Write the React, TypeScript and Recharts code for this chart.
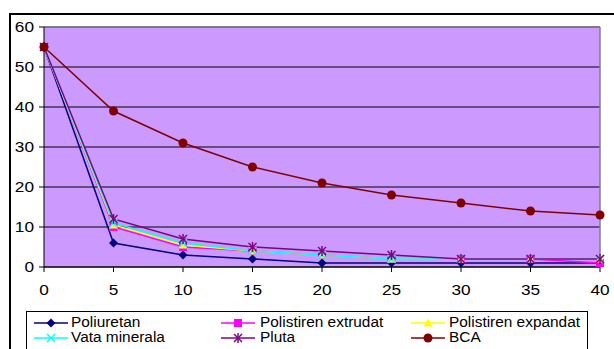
import React from "react";
import { CartesianGrid, Line, LineChart, ReferenceLine, XAxis, YAxis } from "recharts";

// thickness in cm
const grosimi = [0, 5, 10, 15, 20, 25, 30, 35, 40];

const poliuretan = [55, 6, 3, 2, 1, 1, 1, 1, 1];
const polistirenExtrudat = [55, 10, 5, 4, 3, 2, 2, 2, 1];
const polistirenExpandat = [55, 10.5, 5.5, 4, 3, 2, 2, 2, 2];
const vataMinerala = [55, 11, 6, 4, 3, 2, 2, 2, 2];
const pluta = [55, 12, 7, 5, 4, 3, 2, 2, 2];
const bca = [55, 39, 31, 25, 21, 18, 16, 14, 13];

const xTicks = [0, 5, 10, 15, 20, 25, 30, 35, 40];
const yTicks = [0, 10, 20, 30, 40, 50, 60];

type Marker = "diamond" | "square" | "triangle" | "cross" | "star" | "circle";

const series: { key: string; name: string; color: string; marker: Marker; values: number[] }[] = [
  { key: "poliuretan", name: "Poliuretan", color: "#000080", marker: "diamond", values: poliuretan },
  { key: "extrudat", name: "Polistiren extrudat", color: "#FF00FF", marker: "square", values: polistirenExtrudat },
  { key: "expandat", name: "Polistiren expandat", color: "#FFFF00", marker: "triangle", values: polistirenExpandat },
  { key: "vata", name: "Vata minerala", color: "#00FFFF", marker: "cross", values: vataMinerala },
  { key: "pluta", name: "Pluta", color: "#800080", marker: "star", values: pluta },
  { key: "bca", name: "BCA", color: "#800000", marker: "circle", values: bca },
];

const data = grosimi.map((g, i) => {
  const row: Record<string, number> = { g };
  series.forEach((s) => (row[s.key] = s.values[i]));
  return row;
});

// the text in this chart is slightly wide, as in a stretched spreadsheet chart
const STRETCH = 1.15;

function MarkerShape({ type, cx, cy, color }: { type: Marker; cx: number; cy: number; color: string }) {
  switch (type) {
    case "diamond":
      return <polygon points={`${cx},${cy - 4.5} ${cx + 4.5},${cy} ${cx},${cy + 4.5} ${cx - 4.5},${cy}`} fill={color} />;
    case "square":
      return <rect x={cx - 4} y={cy - 4} width={8} height={8} fill={color} />;
    case "triangle":
      return <polygon points={`${cx},${cy - 4.5} ${cx + 4.5},${cy + 3.5} ${cx - 4.5},${cy + 3.5}`} fill={color} />;
    case "cross":
      return (
        <g stroke={color} strokeWidth={1.5}>
          <line x1={cx - 4} y1={cy - 4} x2={cx + 4} y2={cy + 4} />
          <line x1={cx - 4} y1={cy + 4} x2={cx + 4} y2={cy - 4} />
        </g>
      );
    case "star":
      return (
        <g stroke={color} strokeWidth={1.5}>
          <line x1={cx - 4} y1={cy - 4} x2={cx + 4} y2={cy + 4} />
          <line x1={cx - 4} y1={cy + 4} x2={cx + 4} y2={cy - 4} />
          <line x1={cx} y1={cy - 5} x2={cx} y2={cy + 5} />
        </g>
      );
    default:
      return <circle cx={cx} cy={cy} r={4.5} fill={color} />;
  }
}

function XTick(props: any) {
  const { x, y, payload } = props;
  return (
    <text transform={`translate(${x},${y}) scale(${STRETCH},1)`} textAnchor="middle" dy="0.71em" fontSize={15} fill="#000">
      {payload.value}
    </text>
  );
}

function YTick(props: any) {
  const { x, y, payload } = props;
  return (
    <text transform={`translate(${x},${y}) scale(${STRETCH},1)`} textAnchor="end" dy="0.355em" fontSize={15} fill="#000">
      {payload.value}
    </text>
  );
}

const legendCols = [
  { line: 34, text: 71 },
  { line: 221, text: 260 },
  { line: 411, text: 449 },
];
const legendRows = [323, 338];

function ChartLegend() {
  return (
    <div
      style={{
        position: "absolute",
        left: 26,
        top: 311,
        width: 562,
        height: 60,
        border: "1px solid #000",
        boxSizing: "border-box",
      }}
    >
      {series.map((s, i) => {
        const col = legendCols[i % 3];
        const row = legendRows[Math.floor(i / 3)];
        return (
          <React.Fragment key={s.key}>
            <svg
              width={36}
              height={14}
              style={{ position: "absolute", left: col.line - 27, top: row - 311 - 7 - 1 }}
            >
              <line x1={0} y1={7} x2={34} y2={7} stroke={s.color} strokeWidth={1.5} />
              <MarkerShape type={s.marker} cx={17} cy={7} color={s.color} />
            </svg>
            <span
              style={{
                position: "absolute",
                left: col.text - 27,
                top: row - 311 - 9,
                fontSize: 14,
                lineHeight: "15px",
                whiteSpace: "nowrap",
                transform: "scaleX(1.1)",
                transformOrigin: "left center",
              }}
            >
              {s.name}
            </span>
          </React.Fragment>
        );
      })}
    </div>
  );
}

export default function App() {
  return (
    <div
      style={{
        position: "absolute",
        left: 0,
        top: 0,
        width: 614,
        height: 349,
        overflow: "hidden",
        background: "#fff",
        fontFamily: "'Liberation Sans', Arial, sans-serif",
      }}
    >
      <div
        style={{
          position: "absolute",
          left: 9,
          top: 13,
          width: 700,
          height: 400,
          borderLeft: "2px solid #000",
          borderTop: "2px solid #000",
        }}
      />
      <LineChart
        width={614}
        height={349}
        data={data}
        margin={{ top: 27, right: 14, bottom: 0, left: 0 }}
        style={{ position: "absolute", left: 0, top: 0 }}
      >
        <CartesianGrid vertical={false} stroke="#000" fill="#CC99FF" fillOpacity={1} />
        <ReferenceLine y={60} stroke="#808080" strokeWidth={1.5} />
        <ReferenceLine x={40} stroke="#808080" strokeWidth={1.5} />
        <XAxis
          dataKey="g"
          type="number"
          domain={[0, 40]}
          ticks={xTicks}
          height={82}
          stroke="#000"
          tickSize={5}
          tickMargin={12}
          tick={<XTick />}
        />
        <YAxis
          type="number"
          domain={[0, 60]}
          ticks={yTicks}
          width={44}
          stroke="#000"
          tickSize={5}
          tickMargin={5}
          tick={<YTick />}
        />
        {series.map((s) => (
          <Line
            key={s.key}
            dataKey={s.key}
            name={s.name}
            type="linear"
            stroke={s.color}
            strokeWidth={1.5}
            isAnimationActive={false}
            dot={(p: any) => <MarkerShape key={`${s.key}-${p.index}`} type={s.marker} cx={p.cx} cy={p.cy} color={s.color} />}
            activeDot={false}
          />
        ))}
      </LineChart>
      <ChartLegend />
    </div>
  );
}
